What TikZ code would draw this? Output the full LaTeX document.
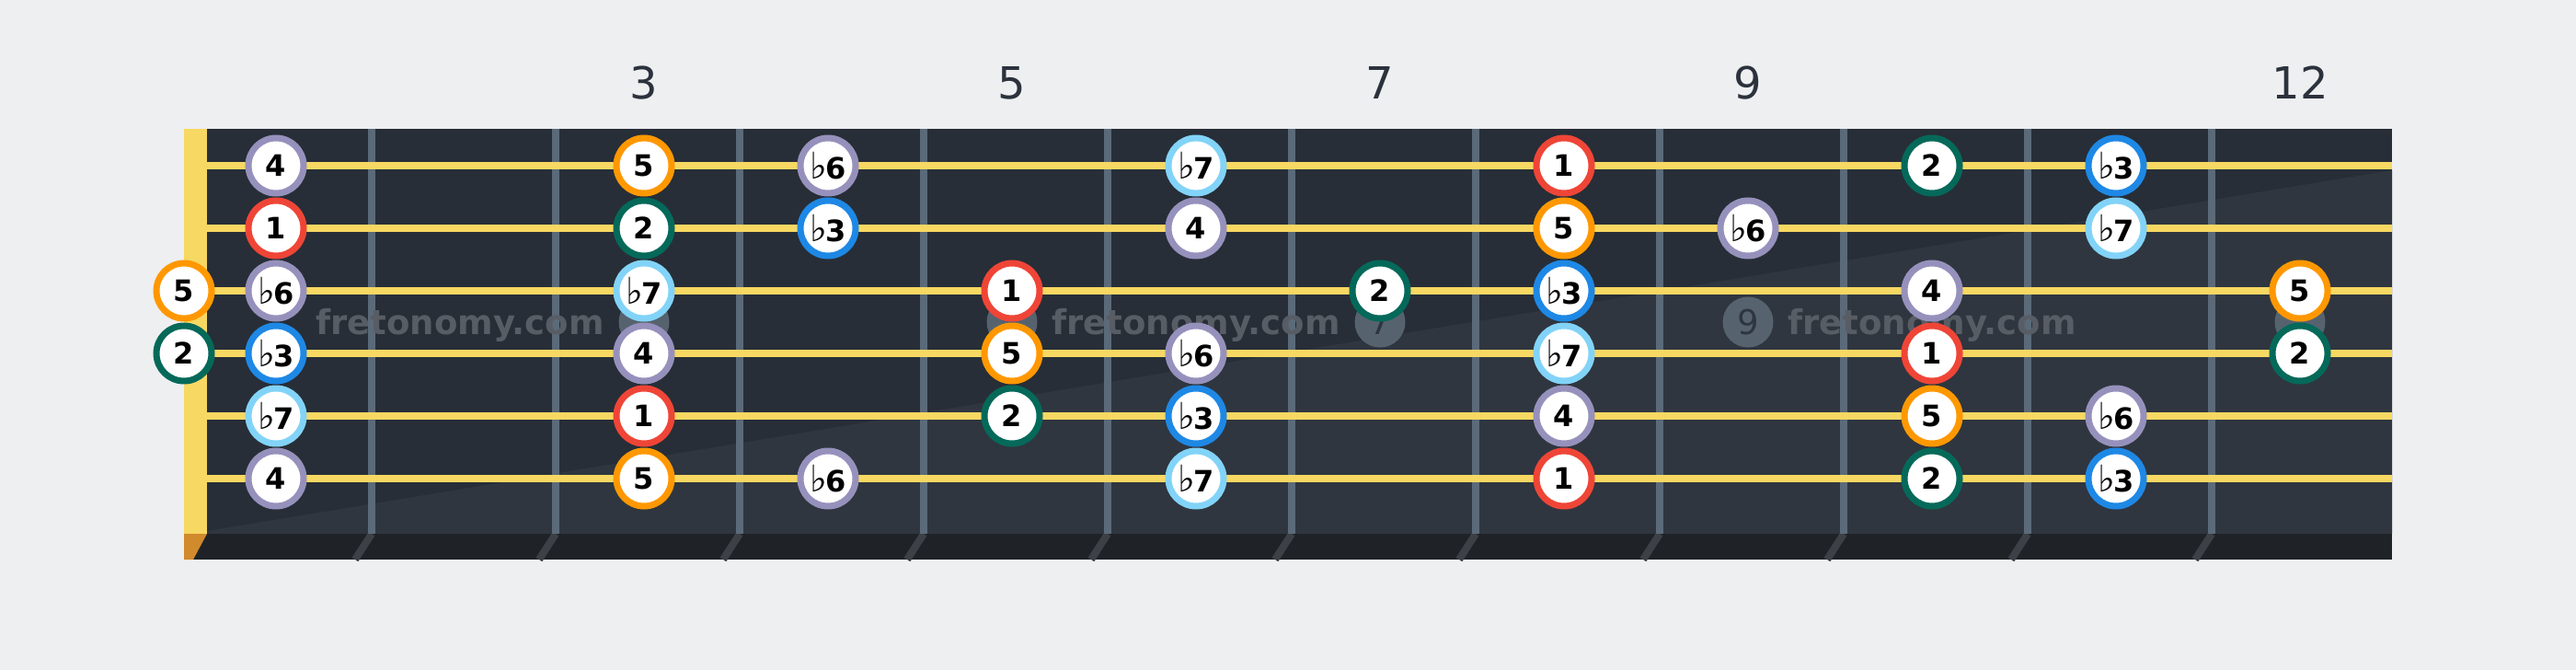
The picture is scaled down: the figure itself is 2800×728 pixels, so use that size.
\documentclass[tikz,border=0pt]{standalone}
\usepackage{fontspec}
\setmainfont{DejaVu Sans}
\newfontfamily\flatfont{DejaVu Sans}
\definecolor{bgc}{HTML}{EEEFF1}
\definecolor{boarddark}{HTML}{272E37}
\definecolor{boardlight}{HTML}{2F363F}
\definecolor{fretc}{HTML}{5B6A79}
\definecolor{stringc}{HTML}{F7D862}
\definecolor{stripc}{HTML}{1F2328}
\definecolor{slantc}{HTML}{3C4147}
\definecolor{nutbot}{HTML}{D18A2C}
\definecolor{markc}{HTML}{56636F}
\definecolor{marktxt}{HTML}{2E3540}
\definecolor{wmark}{HTML}{585D65}
\definecolor{fretnum}{HTML}{2B323C}
\definecolor{cI}{HTML}{EF4537}
\definecolor{cII}{HTML}{05695A}
\definecolor{cIII}{HTML}{1E88E5}
\definecolor{cIV}{HTML}{9691BC}
\definecolor{cV}{HTML}{FF9800}
\definecolor{cVI}{HTML}{9691BC}
\definecolor{cVII}{HTML}{82D3F8}
\newcommand\fl{{\flatfont\fontsize{40}{40}\selectfont\mdseries ♭}\kern-2pt}
\tikzset{
  notebase/.style={circle, draw, fill=white, line width=7pt, minimum size=60pt, inner sep=0pt,
    font=\fontsize{32}{32}\selectfont\bfseries, text=black},
  fretlabel/.style={anchor=base, text=fretnum, font=\fontsize{48}{48}\selectfont},
  wm/.style={anchor=base, text=wmark, font=\fontsize{37}{37}\selectfont\bfseries},
  marker/.style={circle, fill=markc, minimum size=55pt, inner sep=0pt, text=marktxt,
    font=\fontsize{37}{37}\selectfont},
}
\begin{document}
\begin{tikzpicture}[x=1pt,y=-1pt]
\fill[bgc] (0,0) rectangle (2800,728);
\useasboundingbox (0,0) rectangle (2800,728);
% board
\fill[boarddark] (225,140) rectangle (2600,580);
\fill[boardlight] (225,577) -- (2600,185) -- (2600,580) -- (225,580) -- cycle;
% bottom strip
\fill[stripc] (200,580) rectangle (2600,608);
\fill[nutbot] (200,580) -- (225,580) -- (210,608) -- (200,608) -- cycle;
\foreach \k in {1,...,11}{
  \draw[slantc, line width=8pt] ({204+200*\k},580) -- ({186+200*\k},608);
}
% frets
\foreach \k in {1,...,11}{
  \draw[fretc, line width=8pt] ({204+200*\k},140) -- ({204+200*\k},580);
}
% nut
\fill[stringc] (200,140) rectangle (225,580);
% strings
\foreach \s in {1,...,6}{
  \coordinate (sL\s) at (225,{180+68*(\s-1)});
  \coordinate (sR\s) at (2600,{180+68*(\s-1)});
  \draw[stringc, line width=8pt] (sL\s) -- (sR\s);
}
% fret markers
\node[marker] (m3) at (700,350) {};
\node[marker] (m5) at (1100,350) {};
\node[marker] (m7) at (1500,350) {7};
\node[marker] (m9) at (1900,350) {9};
\node[marker] (m12) at (2500,350) {};
% watermark
\node[wm] (w1) at (500,363) {fretonomy.com};
\node[wm] (w2) at (1300,363) {fretonomy.com};
\node[wm] (w3) at (2100,363) {fretonomy.com};
% fret numbers
\node[fretlabel] (f3) at (700,107) {3};
\node[fretlabel] (f5) at (1100,107) {5};
\node[fretlabel] (f7) at (1500,107) {7};
\node[fretlabel] (f9) at (1900,107) {9};
\node[fretlabel] (f12) at (2500,107) {12};
% notes
\foreach \s/\f/\c/\t in {
  1/1/cIV/4, 1/3/cV/5, 1/4/cVI/\fl6, 1/6/cVII/\fl7, 1/8/cI/1, 1/10/cII/2, 1/11/cIII/\fl3,
  2/1/cI/1, 2/3/cII/2, 2/4/cIII/\fl3, 2/6/cIV/4, 2/8/cV/5, 2/9/cVI/\fl6, 2/11/cVII/\fl7,
  3/0/cV/5, 3/1/cVI/\fl6, 3/3/cVII/\fl7, 3/5/cI/1, 3/7/cII/2, 3/8/cIII/\fl3, 3/10/cIV/4, 3/12/cV/5,
  4/0/cII/2, 4/1/cIII/\fl3, 4/3/cIV/4, 4/5/cV/5, 4/6/cVI/\fl6, 4/8/cVII/\fl7, 4/10/cI/1, 4/12/cII/2,
  5/1/cVII/\fl7, 5/3/cI/1, 5/5/cII/2, 5/6/cIII/\fl3, 5/8/cIV/4, 5/10/cV/5, 5/11/cVI/\fl6,
  6/1/cIV/4, 6/3/cV/5, 6/4/cVI/\fl6, 6/6/cVII/\fl7, 6/8/cI/1, 6/10/cII/2, 6/11/cIII/\fl3}{
  \pgfmathsetmacro\xx{\f==0 ? 200 : 200*\f+100}
  \node[notebase, draw=\c] (n\s-\f) at (\xx,{180+68*(\s-1)}) {\t};
}
\end{tikzpicture}
\end{document}
